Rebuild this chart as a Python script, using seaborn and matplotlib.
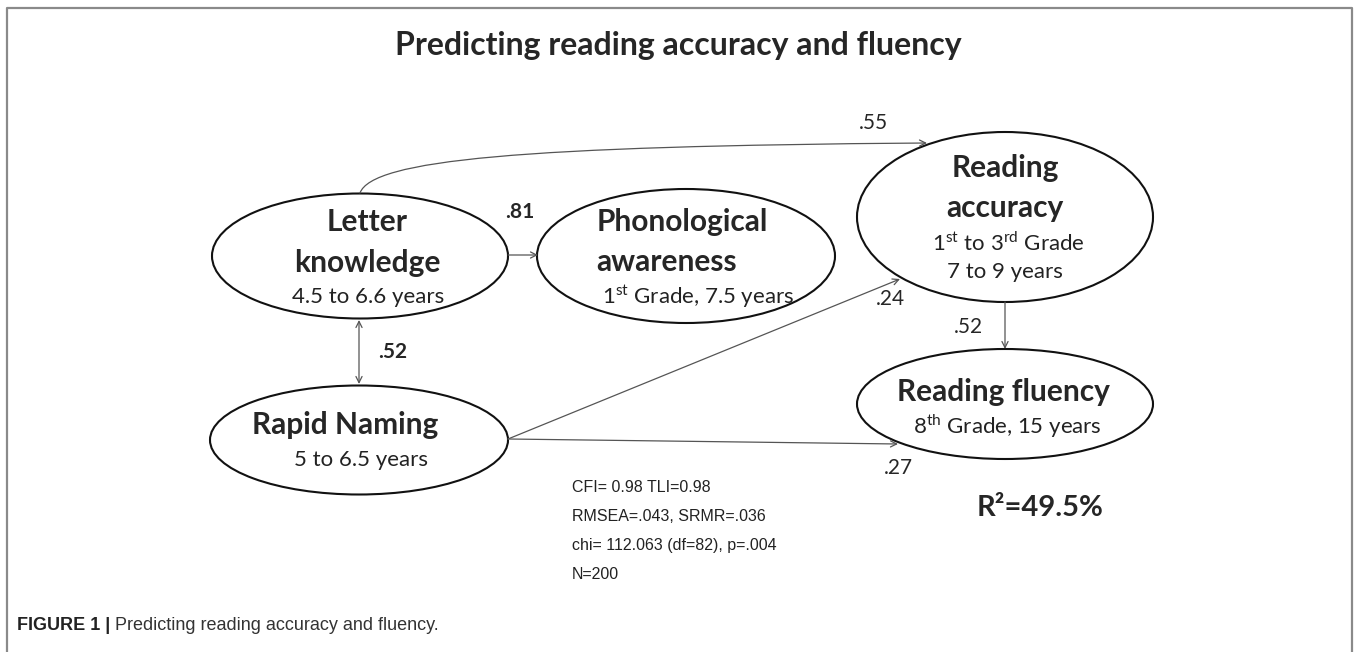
import matplotlib
matplotlib.use("Agg")
import matplotlib.pyplot as plt
import seaborn as sns
from matplotlib import font_manager
from matplotlib.patches import Ellipse, FancyArrowPatch
from matplotlib.path import Path

# --- data -------------------------------------------------------------
title = "Predicting reading accuracy and fluency"
node_names = [["Letter", "knowledge"],
              ["Phonological", "awareness"],
              ["Reading", "accuracy"],
              ["Reading fluency"],
              ["Rapid Naming"]]
node_ages = [["4.5 to 6.6 years"],
             [r"1$^{\mathrm{st}}$ Grade, 7.5 years"],
             [r"1$^{\mathrm{st}}$ to 3$^{\mathrm{rd}}$ Grade", "7 to 9 years"],
             [r"8$^{\mathrm{th}}$ Grade, 15 years"],
             ["5 to 6.5 years"]]
# LK->RA, LK->PA, LK<->RN, RN->RA, RA->RF, RN->RF
path_coefs = [0.55, 0.81, 0.52, 0.24, 0.52, 0.27]
coef_bold = [False, True, True, False, False, False]
fit_stats = ["CFI= 0.98 TLI=0.98",
             "RMSEA=.043, SRMR=.036",
             "chi= 112.063 (df=82), p=.004",
             "N=200"]
r_squared = 49.5
caption_bold = "FIGURE 1 |"
caption_text = "Predicting reading accuracy and fluency."

# --- layout (pixel space) --------------------------------------------
ell_center = [(360, 256), (686, 256), (1005, 217), (1005, 404), (359, 440)]
ell_size = [(296, 125), (298, 134), (296, 170), (296, 110), (298, 109)]
name_xy = [[(367, 222), (367, 263)],
           [(682, 222), (667, 262)],
           [(1005, 168), (1005, 208)],
           [(1003, 392)],
           [(345, 425)]]
age_xy = [[(368, 297)], [(698, 297)], [(1008, 243), (1005, 272)],
          [(1007, 426)], [(361, 460)]]
coef_xy = [(873, 123), (520, 212), (393, 352), (890, 299), (968, 327), (898, 468)]

sns.set_theme(style="white")
installed = {f.name for f in font_manager.fontManager.ttflist}
main_font = "Lato" if "Lato" in installed else "DejaVu Sans"
narrow_font = "Liberation Sans Narrow" if "Liberation Sans Narrow" in installed else "Liberation Sans"
plt.rcParams["font.family"] = [main_font, "DejaVu Sans"]
plt.rcParams["mathtext.fontset"] = "custom"
plt.rcParams["mathtext.rm"] = main_font
plt.rcParams["mathtext.bf"] = main_font + ":bold"

fig = plt.figure(figsize=(13.57, 6.52), dpi=100)
ax = fig.add_axes([0, 0, 1, 1])
ax.set_xlim(0, 1357)
ax.set_ylim(652, 0)
ax.axis("off")

# frame
frame_col = "#8a8a8a"
ax.plot([7, 7, 1352, 1352], [660, 8, 8, 660], color=frame_col, lw=1.6)

ax.text(678, 45, title, ha="center", va="center", fontsize=23, fontweight="bold")

for i in range(len(node_names)):
    ax.add_patch(Ellipse(ell_center[i], ell_size[i][0], ell_size[i][1],
                         fill=False, ec="#111111", lw=1.5))
    for line, (x, y) in zip(node_names[i], name_xy[i]):
        ax.text(x, y, line, ha="center", va="center", fontsize=21.5, fontweight="bold")
    for line, (x, y) in zip(node_ages[i], age_xy[i]):
        ax.text(x, y, line, ha="center", va="center", fontsize=16, color="#222222")

arrow_kw = dict(arrowstyle="->", mutation_scale=11, lw=0.9, color="#555555",
                shrinkA=0, shrinkB=0)


def arrow(p0, p1, style="->"):
    kw = dict(arrow_kw)
    kw["arrowstyle"] = style
    ax.annotate("", xy=p1, xytext=p0, arrowprops=kw)


# LK -> RA curved path
curve = Path([(360, 193), (372, 160), (520, 146), (927, 143)],
             [Path.MOVETO, Path.CURVE4, Path.CURVE4, Path.CURVE4])
ax.add_patch(FancyArrowPatch(path=curve, arrowstyle="->", mutation_scale=11,
                             lw=0.9, color="#555555"))
arrow((508, 255), (538, 255))             # LK -> PA
arrow((359, 320), (359, 384), style="<->")  # LK <-> RN
arrow((508, 439), (900, 279))             # RN -> RA
arrow((1005, 302), (1005, 349))           # RA -> RF
arrow((508, 439), (898, 444))             # RN -> RF

for v, b, (x, y) in zip(path_coefs, coef_bold, coef_xy):
    ax.text(x, y, f"{v:.2f}".lstrip("0"), ha="center", va="center", fontsize=15,
            fontweight="bold" if b else "normal")

for k, line in enumerate(fit_stats):
    ax.text(572, 487 + k * 29.3, line, ha="left", va="center", fontsize=11.5,
            family=[narrow_font, "DejaVu Sans"], color="#222222")

ax.text(1040, 508, f"R²={r_squared}%", ha="center", va="center",
        fontsize=21, fontweight="bold")

cap1 = ax.text(17, 625, caption_bold, ha="left", va="center", fontsize=13,
               fontweight="bold", family=[narrow_font, "DejaVu Sans"], color="#222222")
fig.canvas.draw()
bb = cap1.get_window_extent().transformed(ax.transData.inverted())
ax.text(bb.x1 + 5, 625, caption_text, ha="left", va="center", fontsize=13,
        family=[narrow_font, "DejaVu Sans"], color="#333333")

fig.savefig("out.png", dpi=100, facecolor="white")
